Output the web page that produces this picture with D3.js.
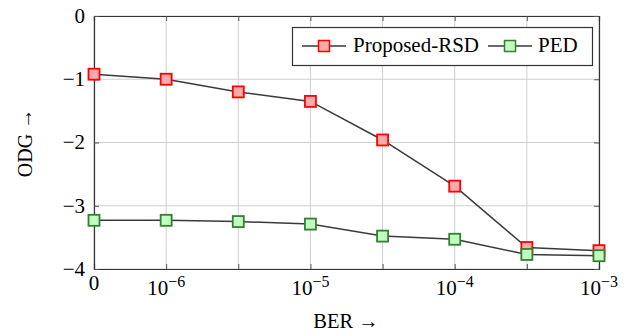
<!DOCTYPE html>
<html>
<head>
<meta charset="utf-8">
<script src="https://cdn.jsdelivr.net/npm/d3@7"></script>
<style>
  body { margin: 0; background: #fff; }
</style>
</head>
<body>
<svg id="chart" width="636" height="336"></svg>
<script>
'use strict';

// x categories (BER), only some of them get a label
var berLabels = ['0', '-6', '', '-5', '', '-4', '', '-3'];
var yTicks = [0, -1, -2, -3, -4];

var rsdValues = [-0.92, -1.0, -1.2, -1.35, -1.96, -2.69, -3.66, -3.71];
var pedValues = [-3.23, -3.23, -3.25, -3.29, -3.48, -3.53, -3.77, -3.79];

var seriesNames = ['Proposed-RSD', 'PED'];

var serif = 'Liberation Serif';
var pLeft = 94, pRight = 599, pTop = 16, pBottom = 269;

var svg = d3.select('#chart');

var x = d3.scalePoint()
    .domain(d3.range(berLabels.length))
    .range([pLeft, pRight]);

var y = d3.scaleLinear()
    .domain([-4, 0])
    .range([pBottom, pTop]);

// grid
svg.append('g')
    .selectAll('line')
    .data(x.domain())
  .enter().append('line')
    .attr('x1', function(d) { return x(d); })
    .attr('x2', function(d) { return x(d); })
    .attr('y1', pTop).attr('y2', pBottom)
    .attr('stroke', '#cfcfcf').attr('stroke-width', 1);

svg.append('g')
    .selectAll('line')
    .data(yTicks)
  .enter().append('line')
    .attr('x1', pLeft).attr('x2', pRight)
    .attr('y1', function(d) { return y(d); })
    .attr('y2', function(d) { return y(d); })
    .attr('stroke', '#cfcfcf').attr('stroke-width', 1);

// axes, ticks pointing inwards like pgfplots
var axisBottom = d3.axisBottom(x).tickSize(-5).tickFormat('');
var axisTop = d3.axisTop(x).tickSize(-5).tickFormat('');
var axisLeft = d3.axisLeft(y).tickValues(yTicks).tickSize(-5).tickFormat('');
var axisRight = d3.axisRight(y).tickValues(yTicks).tickSize(-5).tickFormat('');

[[axisBottom, 'translate(0,' + pBottom + ')'],
 [axisTop, 'translate(0,' + pTop + ')'],
 [axisLeft, 'translate(' + pLeft + ',0)'],
 [axisRight, 'translate(' + pRight + ',0)']].forEach(function(a) {
  var g = svg.append('g').attr('transform', a[1]).call(a[0]);
  g.select('.domain').attr('stroke', '#333').attr('stroke-width', 1.2);
  g.selectAll('.tick line').attr('stroke', '#555').attr('stroke-width', 1);
});

var labels = svg.append('g').attr('font-family', serif).attr('fill', '#000');

// y tick labels
labels.append('g')
    .selectAll('text')
    .data(yTicks)
  .enter().append('text')
    .attr('x', pLeft - 9)
    .attr('y', function(d) { return y(d); })
    .attr('dy', '0.33em')
    .attr('text-anchor', 'end')
    .attr('font-size', 21)
    .text(function(d) { return d === 0 ? '0' : '\u2212' + Math.abs(d); });

// x tick labels, 10^k
var xl = labels.append('g')
    .selectAll('text')
    .data(berLabels.map(function(l, i) { return {l: l, i: i}; }).filter(function(d) { return d.l !== ''; }))
  .enter().append('text')
    .attr('x', function(d) { return x(d.i); })
    .attr('y', function(d) { return d.l === '0' ? 290 : 295; })
    .attr('text-anchor', 'middle')
    .attr('font-size', 21);

xl.each(function(d) {
  var t = d3.select(this);
  if (d.l === '0') { t.text('0'); return; }
  t.append('tspan').text('10');
  t.append('tspan').attr('dy', -8).attr('font-size', 16).text('\u2212' + d.l.slice(1));
});

// axis titles
labels.append('text')
    .attr('x', 346).attr('y', 328)
    .attr('text-anchor', 'middle')
    .attr('font-size', 20.5)
    .text('BER \u2192');

labels.append('text')
    .attr('transform', 'translate(32,143) rotate(-90)')
    .attr('text-anchor', 'middle')
    .attr('font-size', 20)
    .text('ODG \u2192');

var styles = [
  {stroke: '#ff0000', fill: '#ffaaaa'},
  {stroke: '#338033', fill: '#bfffbf'}
];

var line = d3.line()
    .x(function(d, i) { return x(i); })
    .y(function(d) { return y(d); });

[rsdValues, pedValues].forEach(function(vals, k) {
  svg.append('path')
      .datum(vals)
      .attr('d', line)
      .attr('fill', 'none')
      .attr('stroke', '#3a3a3a')
      .attr('stroke-width', 1.5);

  svg.append('g')
      .selectAll('rect')
      .data(vals)
    .enter().append('rect')
      .attr('x', function(d, i) { return x(i) - 5.5; })
      .attr('y', function(d) { return y(d) - 5.5; })
      .attr('width', 11).attr('height', 11)
      .attr('fill', styles[k].fill)
      .attr('stroke', styles[k].stroke)
      .attr('stroke-width', 1.8);
});

// legend
var legend = svg.append('g');
legend.append('rect')
    .attr('x', 292.5).attr('y', 27.5)
    .attr('width', 300).attr('height', 38)
    .attr('fill', '#fff')
    .attr('stroke', '#333').attr('stroke-width', 1.2);

var legendPos = [{x0: 302, text: 353}, {x0: 488, text: 538}];
seriesNames.forEach(function(name, k) {
  var p = legendPos[k];
  legend.append('line')
      .attr('x1', p.x0).attr('x2', p.x0 + 44)
      .attr('y1', 46).attr('y2', 46)
      .attr('stroke', '#3a3a3a').attr('stroke-width', 1.5);
  legend.append('rect')
      .attr('x', p.x0 + 22 - 5.5).attr('y', 46 - 5.5)
      .attr('width', 11).attr('height', 11)
      .attr('fill', styles[k].fill)
      .attr('stroke', styles[k].stroke)
      .attr('stroke-width', 1.5);
  legend.append('text')
      .attr('x', p.text).attr('y', 52)
      .attr('font-family', serif)
      .attr('font-size', 21)
      .text(name);
});
</script>
</body>
</html>
